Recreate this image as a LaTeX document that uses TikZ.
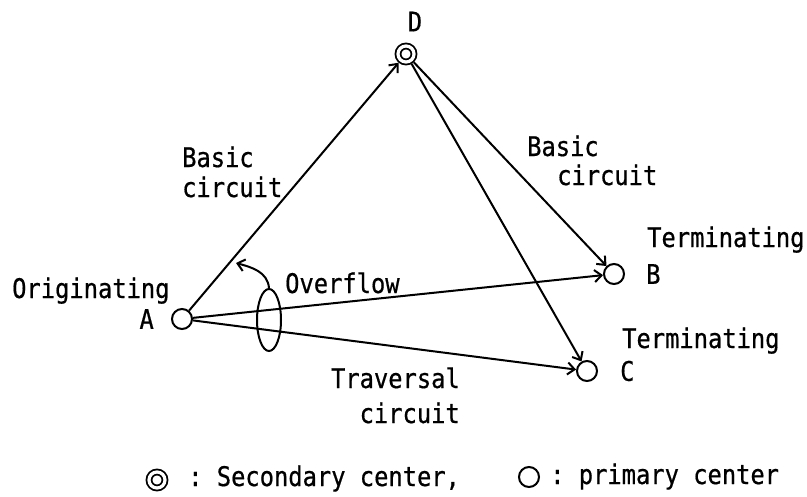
\documentclass[tikz,border=0pt]{standalone}
\usepackage{fontspec}
\setmonofont{DejaVu Sans Mono}[FakeStretch=0.88, FakeBold=0.6]
\usetikzlibrary{shapes.geometric, arrows.meta, positioning}

\begin{document}
\begin{tikzpicture}[
  x=1pt, y=1pt,
  node distance=20pt,
  primary/.style={circle, draw, line width=2pt, minimum size=20pt,
                  inner sep=0pt},
  secondary/.style={circle, draw, double, double distance=3.2pt,
                    line width=1.8pt, minimum size=16pt, inner sep=0pt,
                    outer sep=3.4pt},
  lbl/.style={font=\ttfamily\fontsize{27}{30}\selectfont, inner sep=0pt},
  arr/.style={-{Straight Barb[length=7pt, width=12pt]}, line width=2pt}
]
\useasboundingbox (0,0) rectangle (807,-496);

% centres
\node[secondary] (d) at (406,-54)  {};
\node[primary]   (a) at (182,-319) {};
\node[primary]   (b) at (614,-274) {};
\node[primary]   (c) at (587,-371) {};

\node[lbl, above=11pt of d, xshift=9pt] (dname) {D};
\node[lbl, left=17pt of a]  (aname) {A};
\node[lbl, right=21pt of b] (bname) {B};
\node[lbl, right=22pt of c] (cname) {C};

\node[lbl, anchor=base west] (orig)  at (12,-298)  {Originating};
\node[lbl, anchor=base west] (termb) at (647,-247) {Terminating};
\node[lbl, anchor=base west] (termc) at (622,-348) {Terminating};

% circuit labels
\node[lbl, anchor=base west] (bas1) at (182,-167) {Basic};
\node[lbl, anchor=base west] (cir1) at (182,-197) {circuit};
\node[lbl, anchor=base west] (bas2) at (527,-156) {Basic};
\node[lbl, anchor=base west] (cir2) at (557,-185) {circuit};
\node[lbl, anchor=base east] (trav) at (460,-388) {Traversal};
\node[lbl, anchor=base east] (cir3) at (460,-423) {circuit};
\node[lbl, anchor=base west] (ovfl) at (285,-293) {Overflow};

% overflow group
\node[ellipse, draw, line width=2pt, minimum width=24pt,
      minimum height=62pt, inner sep=0pt] (grp) at (269,-320) {};
\coordinate (ovtip) at (236,-263);

\draw[arr] (a) -- (d);
\draw[arr] (d) -- (b);
\draw[arr] (d) -- (c);
\draw[arr] (a) -- (b);
\draw[arr] (a) -- (c);
\draw[arr] (grp.north) to[out=95, in=-15] (ovtip);

% legend
\node[secondary] (sec) at (157,-480) {};
\node[lbl, anchor=base west] (sectxt) at (188,-486) {: Secondary center,};
\node[primary] (pri) at (529,-477) {};
\node[lbl, anchor=base west] (pritxt) at (550,-484) {: primary center};
\end{tikzpicture}
\end{document}
